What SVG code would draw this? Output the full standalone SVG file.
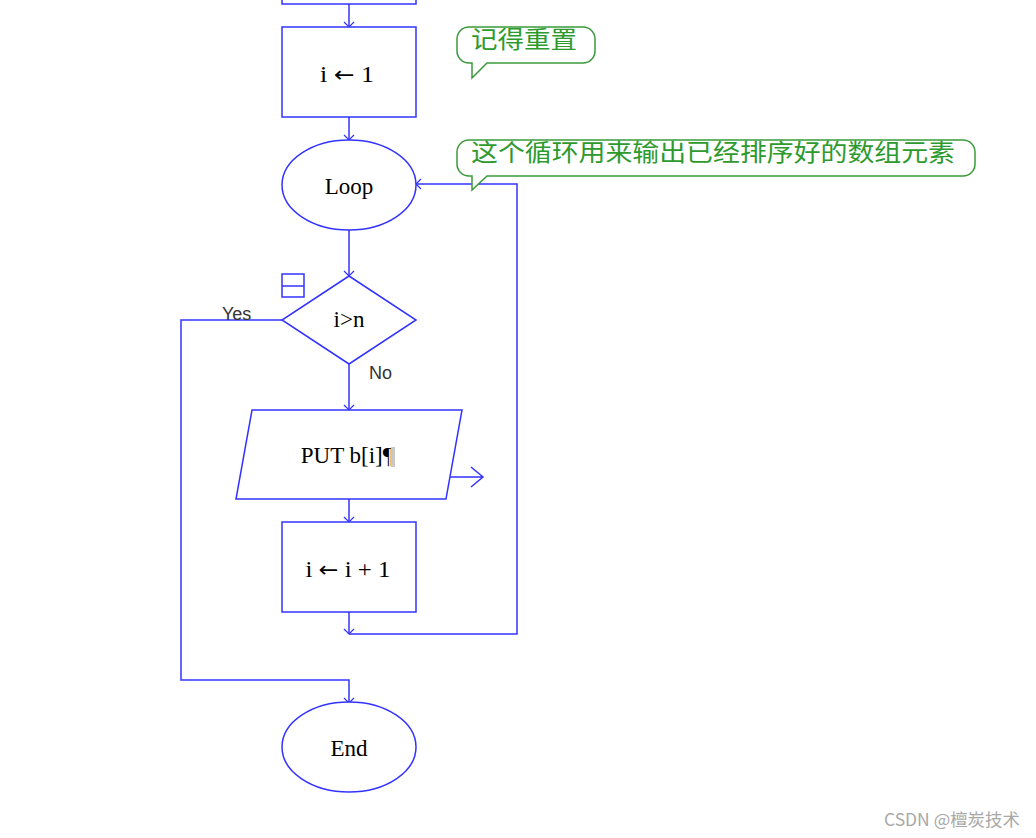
<svg xmlns="http://www.w3.org/2000/svg" width="1036" height="838" viewBox="0 0 1036 838">
<defs>
<marker id="arr" viewBox="-6 -6 7 12" markerWidth="7" markerHeight="12" refX="0" refY="0" orient="auto" markerUnits="userSpaceOnUse">
<path d="M-5,-5 L0,0 L-5,5" fill="none" stroke="#3333ff" stroke-width="1.2"/>
</marker>
</defs>
<style>
.shape{fill:#fff;stroke:#3333ff;stroke-width:1.5}
.conn{fill:none;stroke:#3333ff;stroke-width:1.5}
.lbl{font-family:"Liberation Serif",serif;font-size:23px;fill:#000;text-anchor:middle}
.ar{font-family:"DejaVu Sans",sans-serif;font-size:22px}
.edge{font-family:"Liberation Sans",Arial,sans-serif;font-size:18px;fill:#333}
.bubble{fill:#fff;stroke:#3a9a3a;stroke-width:1.5}
.note{font-family:"Noto Sans CJK SC",sans-serif;font-size:24px;fill:#2e9a2e}
</style>
<rect width="1036" height="838" fill="#fff"/>
<g id="connectors">
<path class="conn" d="M349,4 V27" marker-end="url(#arr)"/>
<path class="conn" d="M349,117 V140" marker-end="url(#arr)"/>
<path class="conn" d="M349,230 V276" marker-end="url(#arr)"/>
<path class="conn" d="M349,364 V410" marker-end="url(#arr)"/>
<path class="conn" d="M349,499 V522" marker-end="url(#arr)"/>
<path class="conn" d="M349,612 V634" marker-end="url(#arr)"/>
<path class="conn" d="M349,634 H517 V184 H416" marker-end="url(#arr)"/>
<path class="conn" d="M282,320 H181 V680 H349 V703" marker-end="url(#arr)"/>
<path class="conn" d="M449,477 H483 M471,467 L483,477 L471,487"/>
<text class="edge" x="222" y="320">Yes</text>
<text class="edge" x="369" y="379">No</text>
</g>
<g id="prev">
<rect class="shape" x="282" y="-20" width="134" height="24"/>
</g>
<g id="init">
<rect class="shape" x="282" y="27" width="134" height="90"/>
<text class="lbl" x="347" y="82" textLength="54" lengthAdjust="spacingAndGlyphs">i <tspan class="ar">←</tspan> 1</text>
</g>
<g id="loop">
<ellipse class="shape" cx="349" cy="185" rx="67" ry="45"/>
<text class="lbl" x="349" y="194">Loop</text>
</g>
<g id="decision">
<polygon class="shape" points="349,276 416,320 349,364 282,320"/>
<text class="lbl" x="349" y="327">i&gt;n</text>
<rect x="282" y="274" width="22" height="23" fill="none" stroke="#3333ff" stroke-width="1.5"/>
<line x1="282" y1="286" x2="304" y2="286" stroke="#3333ff" stroke-width="1.5"/>
</g>
<g id="output">
<polygon class="shape" points="252,410 462,410 446,499 236,499"/>
<text class="lbl" x="347" y="463">PUT b[i]¶</text>
<rect x="391" y="447" width="4" height="20" fill="#c8c8c8"/>
</g>
<g id="incr">
<rect class="shape" x="282" y="522" width="134" height="90"/>
<text class="lbl" x="348" y="577" textLength="85" lengthAdjust="spacingAndGlyphs">i <tspan class="ar">←</tspan> i + 1</text>
</g>
<g id="end">
<ellipse class="shape" cx="349" cy="747" rx="67" ry="45"/>
<text class="lbl" x="349" y="756">End</text>
</g>
<g id="note1">
<path class="bubble" d="M469,27 H583 A12,12 0 0 1 595,39 V51 A12,12 0 0 1 583,63 H487 L472,78 V63 H469 A12,12 0 0 1 457,51 V39 A12,12 0 0 1 469,27 Z"/>
<text class="note" x="471" y="48" textLength="106" lengthAdjust="spacingAndGlyphs">记得重置</text>
</g>
<g id="note2">
<path class="bubble" d="M469,140 H963 A12,12 0 0 1 975,152 V164 A12,12 0 0 1 963,176 H487 L472,190 V176 H469 A12,12 0 0 1 457,164 V152 A12,12 0 0 1 469,140 Z"/>
<text class="note" x="471" y="161" textLength="484" lengthAdjust="spacingAndGlyphs">这个循环用来输出已经排序好的数组元素</text>
</g>
<text x="884" y="826" font-family="'Noto Sans CJK SC','Liberation Sans',sans-serif" font-size="17" fill="#a8a8a8" textLength="136" lengthAdjust="spacingAndGlyphs">CSDN @檀炭技术</text>
</svg>
